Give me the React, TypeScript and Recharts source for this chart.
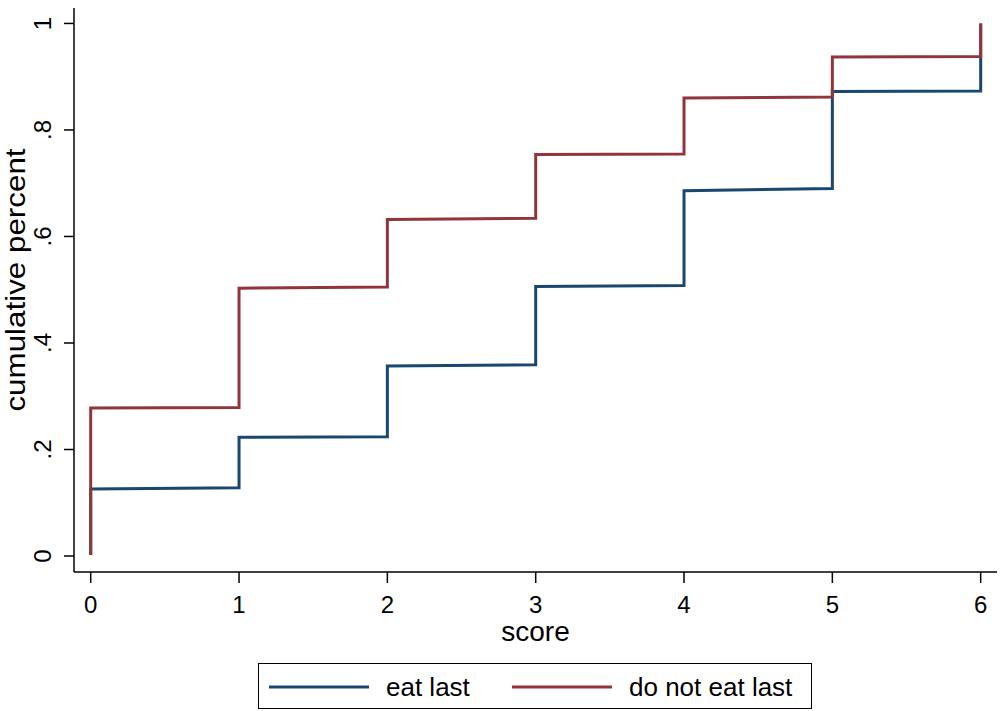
import React from 'react';
import { LineChart, Line, XAxis, YAxis } from 'recharts';

// ---- data ----
const scores = [0, 0, 1, 1, 2, 2, 3, 3, 4, 4, 5, 5, 6, 6];
const eatLast = [0.002, 0.126, 0.128, 0.223, 0.224, 0.357, 0.359, 0.506, 0.508, 0.686, 0.69, 0.872, 0.873, 1.0];
const doNotEatLast = [0.002, 0.278, 0.279, 0.503, 0.505, 0.632, 0.634, 0.754, 0.755, 0.86, 0.862, 0.937, 0.938, 1.0];
const xTicks = [0, 1, 2, 3, 4, 5, 6];
const yTicks = [0, 0.2, 0.4, 0.6, 0.8, 1];
const yTickLabels = ['0', '.2', '.4', '.6', '.8', '1'];
const seriesNames = ['eat last', 'do not eat last'];
const seriesColors = ['#1a476f', '#90353b'];

const eatData = scores.map((s, i) => ({ score: s, value: eatLast[i] }));
const notData = scores.map((s, i) => ({ score: s, value: doNotEatLast[i] }));

const FONT = '"Liberation Sans", Arial, Helvetica, sans-serif';

const YTick = (props: any) => {
  const { x, y, payload } = props;
  const idx = yTicks.indexOf(payload.value);
  const label = idx >= 0 ? yTickLabels[idx] : String(payload.value);
  return (
    <text
      x={x}
      y={y}
      transform={`rotate(-90 ${x} ${y})`}
      textAnchor="middle"
      fontSize={24}
      fontFamily={FONT}
      fill="#000"
    >
      {label}
    </text>
  );
};

const YTitle = (props: any) => {
  const vb = props.viewBox;
  const cy = vb.y + vb.height / 2 - 10;
  const cx = 25;
  return (
    <text
      x={0}
      y={0}
      transform={`translate(${cx} ${cy}) rotate(-90) scale(1.12 1)`}
      textAnchor="middle"
      fontSize={28}
      fontFamily={FONT}
      fill="#000"
    >
      cumulative percent
    </text>
  );
};

const XTitle = (props: any) => {
  const vb = props.viewBox;
  return (
    <text x={vb.x + vb.width / 2} y={641} textAnchor="middle" fontSize={28} fontFamily={FONT} fill="#000">
      score
    </text>
  );
};

export default function App() {
  return (
    <div style={{ position: 'absolute', left: 0, top: 0, width: 1000, height: 711, background: '#fff' }}>
      <LineChart width={1000} height={711} margin={{ top: 8, right: 3, left: 0, bottom: 0 }}>
        <XAxis
          type="number"
          dataKey="score"
          domain={[-0.1126, 6.11]}
          ticks={xTicks}
          allowDataOverflow
          height={139}
          tickSize={11}
          tickMargin={13}
          axisLine={{ stroke: '#000', strokeWidth: 1.5 }}
          tickLine={{ stroke: '#000', strokeWidth: 1.5 }}
          tick={{ fontSize: 24, fontFamily: FONT, fill: '#000' }}
          label={<XTitle />}
        />
        <YAxis
          type="number"
          domain={[-0.03, 1.029]}
          ticks={yTicks}
          allowDataOverflow
          width={74}
          tickSize={10}
          tickMargin={13}
          axisLine={{ stroke: '#000', strokeWidth: 1.5 }}
          tickLine={{ stroke: '#000', strokeWidth: 1.5 }}
          tick={<YTick />}
          label={<YTitle />}
        />
        <Line
          data={eatData}
          dataKey="value"
          type="linear"
          stroke={seriesColors[0]}
          strokeWidth={3}
          dot={false}
          activeDot={false}
          isAnimationActive={false}
          name={seriesNames[0]}
        />
        <Line
          data={notData}
          dataKey="value"
          type="linear"
          stroke={seriesColors[1]}
          strokeWidth={3}
          dot={false}
          activeDot={false}
          isAnimationActive={false}
          name={seriesNames[1]}
        />
      </LineChart>
      <div
        style={{
          position: 'absolute',
          left: 258,
          top: 663,
          width: 554,
          height: 46,
          border: '1.5px solid #000',
          boxSizing: 'border-box',
        }}
      >
        <svg width={551} height={43} style={{ position: 'absolute', left: 0, top: 0 }}>
          <line x1={10} x2={110} y1={23} y2={23} stroke={seriesColors[0]} strokeWidth={3} />
          <text x={127} y={32} fontSize={26} fontFamily={FONT} fill="#000">
            {seriesNames[0]}
          </text>
          <line x1={253} x2={353} y1={23} y2={23} stroke={seriesColors[1]} strokeWidth={3} />
          <text x={370} y={32} fontSize={26} fontFamily={FONT} fill="#000">
            {seriesNames[1]}
          </text>
        </svg>
      </div>
    </div>
  );
}
